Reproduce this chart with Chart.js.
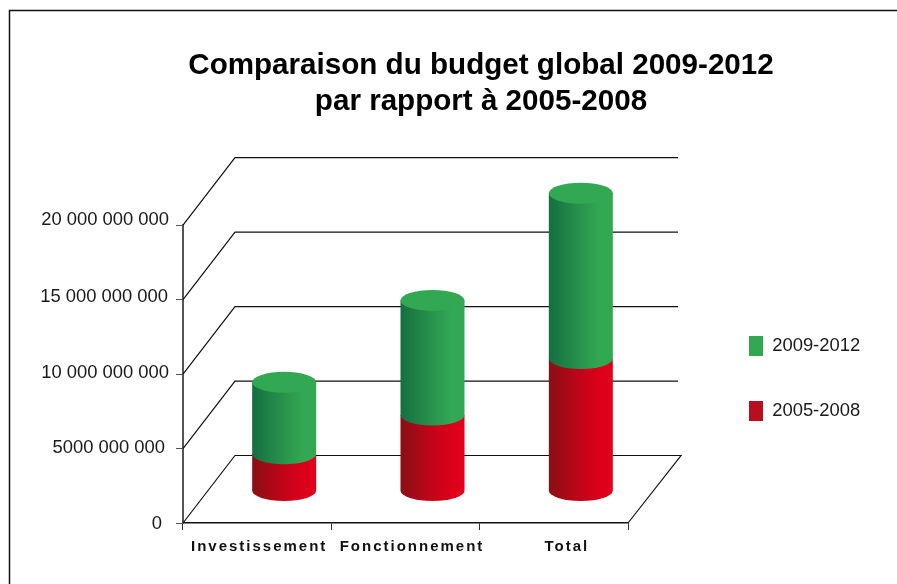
<!DOCTYPE html>
<html>
<head>
<meta charset="utf-8">
<style>html,body{margin:0;padding:0;background:#fff}canvas{display:block}</style>
<script src="https://cdn.jsdelivr.net/npm/chart.js@4"></script>
</head>
<body>
<canvas id="c" width="897" height="584"></canvas>
<script>
const categories = ['Investissement', 'Fonctionnement', 'Total'];
const values2005 = [2.5e9, 5.1e9, 8.9e9];
const values2009 = [4.8e9, 7.7e9, 11.1e9];
const yTickValues = [0, 5e9, 10e9, 15e9, 20e9];
const yTickLabels = ['0', '5000 000 000', '10 000 000 000', '15 000 000 000', '20 000 000 000'];
const seriesNames = ['2005-2008', '2009-2012'];
const titleLines = ['Comparaison du budget global 2009-2012', 'par rapport à 2005-2008'];

const FONT = '"Liberation Sans", Arial, sans-serif';
const DEPTH = {dx: 52, dy: -67.5};
const BAR = {dx: 27, dy: -32, ry: 10.5};
const SHADES = [
  {stops: [[0, '#8a0f14'], [0.45, '#bd0519'], [0.8, '#dc001b'], [1, '#e2001c']]},
  {stops: [[0, '#146f3f'], [0.45, '#27904c'], [0.8, '#33a853'], [1, '#33a853']], top: '#33a853'}
];
const X_LABEL_NUDGE = [[2, 0], [6.5, 0], [13, 0]];
const Y_LABEL_NUDGE = [[-8, 1], [-5, -1], [-1, -1], [-2, -3], [-1, -5]];

const plot3d = {
  id: 'plot3d',
  afterLayout(chart) {
    const l = chart.legend;
    l.left = 704; l.top = 291; l.bottom = 584; l.right = 897;
    chart.titleBlock.left += 150.5; chart.titleBlock.right += 150.5;
  },
  beforeDraw(chart) {
    const ctx = chart.ctx;
    // frame
    ctx.save();
    ctx.strokeStyle = '#111'; ctx.lineWidth = 1.5;
    ctx.beginPath(); ctx.moveTo(9.5, 584); ctx.lineTo(9.5, 10.5); ctx.lineTo(897, 10.5); ctx.stroke();
    ctx.restore();
    const xs = chart.scales.x, ys = chart.scales.y;
    if (!xs._patched) {
      xs._patched = true;
      xs.getLabelItems(chart.chartArea).forEach((it, i) => {
        it.options.translation[0] += X_LABEL_NUDGE[i][0];
        it.options.translation[1] += X_LABEL_NUDGE[i][1];
      });
      ys.getLabelItems(chart.chartArea).forEach((it, i) => {
        it.options.translation[0] += Y_LABEL_NUDGE[i][0];
        it.options.translation[1] += Y_LABEL_NUDGE[i][1];
      });
      const orig = xs.drawLabels;
      xs.drawLabels = function (area) {
        this.ctx.save();
        this.ctx.letterSpacing = '2px';
        orig.call(this, area);
        this.ctx.restore();
      };
    }
  },
  beforeDatasetsDraw(chart) {
    const ctx = chart.ctx, xs = chart.scales.x, ys = chart.scales.y;
    // walls and floor
    ctx.save();
    ctx.lineWidth = 1.2; ctx.strokeStyle = '#111';
    ys.ticks.forEach(t => {
      const y = ys.getPixelForValue(t.value);
      ctx.beginPath();
      ctx.moveTo(xs.left, y);
      ctx.lineTo(xs.left + DEPTH.dx, y + DEPTH.dy);
      ctx.lineTo(t.value === 0 ? xs.right + DEPTH.dx + 1 : xs.right + DEPTH.dx - 2, y + DEPTH.dy);
      if (t.value === 0) ctx.lineTo(xs.right, y);
      ctx.stroke();
    });
    ctx.restore();
    // cylinders, bottom series first
    chart.data.datasets.forEach((ds, di) => {
      const meta = chart.getDatasetMeta(di);
      const shade = SHADES[di];
      meta.data.forEach(el => {
        const r = el.width / 2;
        const cx = el.x + BAR.dx;
        const yT = el.y + BAR.dy, yB = el.base + BAR.dy;
        const g = ctx.createLinearGradient(cx - r, 0, cx + r, 0);
        shade.stops.forEach(s => g.addColorStop(s[0], s[1]));
        ctx.save();
        ctx.fillStyle = g;
        ctx.beginPath();
        ctx.moveTo(cx - r, yT);
        ctx.lineTo(cx - r, yB);
        ctx.ellipse(cx, yB, r, BAR.ry, 0, Math.PI, 0, true);
        ctx.lineTo(cx + r, yT);
        ctx.closePath();
        ctx.fill();
        if (shade.top) {
          ctx.fillStyle = shade.top;
          ctx.beginPath();
          ctx.ellipse(cx, yT, r, BAR.ry, 0, 0, Math.PI * 2);
          ctx.fill();
        }
        ctx.restore();
      });
    });
  },
  beforeDatasetDraw() { return false; }
};

new Chart(document.getElementById('c'), {
  type: 'bar',
  data: {
    labels: categories,
    datasets: [
      {label: seriesNames[0], data: values2005, backgroundColor: '#b90e1f', borderWidth: 0},
      {label: seriesNames[1], data: values2009, backgroundColor: '#33a853', borderWidth: 0}
    ]
  },
  plugins: [plot3d],
  options: {
    responsive: false,
    animation: false,
    events: [],
    layout: {padding: {left: 33, right: 269, top: 0, bottom: 21}},
    datasets: {bar: {barThickness: 64}},
    scales: {
      x: {
        stacked: true,
        offset: true,
        afterFit(s) { s.height = 40; },
        border: {color: '#111', width: 1.5},
        grid: {display: true, drawOnChartArea: false, drawTicks: true, tickLength: 7, color: '#333', offset: true},
        ticks: {color: '#111', font: {family: FONT, size: 15, weight: 'bold'}, padding: 8, autoSkip: false, maxRotation: 0, minRotation: 0}
      },
      y: {
        stacked: true,
        min: 0,
        max: 20e9,
        afterFit(s) { s.width = 150; },
        afterBuildTicks(s) { s.ticks = yTickValues.map(v => ({value: v})); },
        border: {color: '#555', width: 2},
        grid: {display: true, drawOnChartArea: false, drawTicks: true, tickLength: 7, color: '#555'},
        ticks: {
          color: '#1a1a1a',
          font: {family: FONT, size: 18.4},
          padding: 6,
          callback(v) { return yTickLabels[yTickValues.indexOf(v)]; }
        }
      }
    },
    plugins: {
      tooltip: {enabled: false},
      title: {
        display: true,
        text: titleLines,
        color: '#000',
        font: {family: FONT, size: 29.6, weight: 'bold', lineHeight: 1.22},
        padding: {top: 48, bottom: 105}
      },
      legend: {
        position: 'chartArea',
        align: 'start',
        reverse: true,
        labels: {
          color: '#1a1a1a',
          font: {family: FONT, size: 18.4},
          boxWidth: 14,
          boxHeight: 20,
          padding: 45
        }
      }
    }
  }
});
</script>
</body>
</html>
